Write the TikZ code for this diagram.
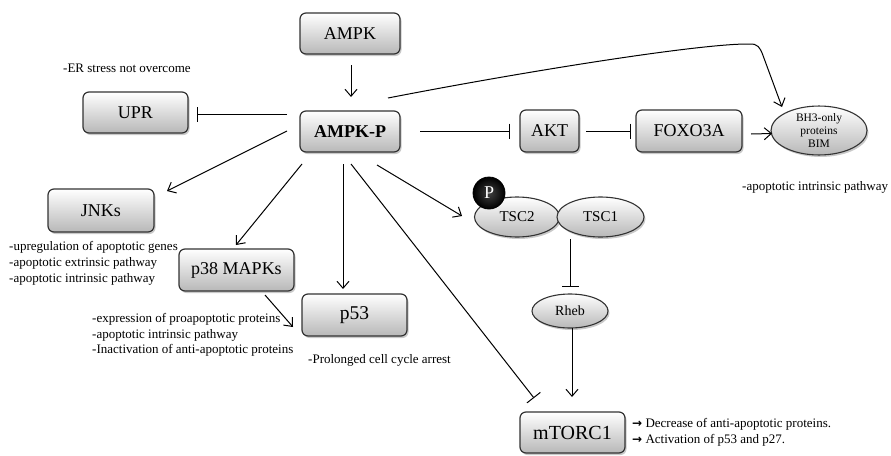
\documentclass[tikz,border=0pt]{standalone}
\usepackage{fontspec}
\setmainfont{Liberation Serif}
\newfontfamily\symf{DejaVu Sans}
\usetikzlibrary{arrows.meta,shapes.geometric,shadows,calc}
\begin{document}
\begin{tikzpicture}[x=1pt,y=-1pt,
  shad/.style={drop shadow={shadow xshift=1.5pt,shadow yshift=-2pt,opacity=0.3,fill=black!70}},
  box/.style={draw=black!80, line width=1.2pt, rounded corners=6pt, top color=white, bottom color=black!28, shad, inner sep=0pt, align=center},
  ell/.style={ellipse, draw=black!80, line width=1.1pt, top color=white, bottom color=black!28, shad, inner sep=0pt, align=center},
  act/.style={line width=1pt, -{Straight Barb[length=7pt,width=12pt]}},
  inh/.style={line width=1pt, -{Bar[width=15pt,line width=1pt]}},
  note/.style={font=\fontsize{13}{15.8}\selectfont, align=left, inner sep=0pt},
  big/.style={font=\fontsize{18}{20}\selectfont},
]
\useasboundingbox (0,0) rectangle (891,455);

% boxes
\node[box, big, minimum width=100, minimum height=41] (ampk) at (350,33.5) {AMPK};
\node[box, big, minimum width=100, minimum height=41, font=\fontsize{18}{20}\selectfont\bfseries] (ampkp) at (350,131.5) {AMPK-P};
\node[box, big, minimum width=105, minimum height=41] (upr) at (135.5,112.5) {UPR};
\node[box, big, minimum width=106, minimum height=43] (jnk) at (101,210.5) {JNKs};
\node[box, big, minimum width=115, minimum height=42] (p38) at (236.5,270) {p38 MAPKs};
\node[box, minimum width=105, minimum height=42, font=\fontsize{19.5}{21}\selectfont] (p53) at (354.5,315) {p53};
\node[box, big, minimum width=59, minimum height=42] (akt) at (549.5,131) {AKT};
\node[box, big, minimum width=106, minimum height=42] (foxo) at (689,131) {FOXO3A};
\node[box, minimum width=105, minimum height=41, font=\fontsize{20}{22}\selectfont] (mtorc) at (572.5,432.5) {mTORC1};

% ellipses
\node[ell, minimum width=96, minimum height=47, font=\fontsize{11.5}{13.3}\selectfont] (bim) at (819,130.5) {BH3-only\\proteins\\BIM};
\node[ell, minimum width=85, minimum height=40, font=\fontsize{15}{17}\selectfont] (tsc2) at (517,217) {TSC2};
\node[ell, minimum width=87, minimum height=40, font=\fontsize{15}{17}\selectfont] (tsc1) at (600.5,217) {TSC1};
\node[circle, minimum size=32, inner sep=0pt, draw=black, line width=0.8pt, inner color=black!75, outer color=black, text=white, font=\fontsize{18}{20}\selectfont] (pc) at (489,193) {P};
\node[ell, minimum width=76, minimum height=34, font=\fontsize{14}{16}\selectfont] (rheb) at (570,311) {Rheb};

% notes
\node[note, anchor=west] (ern) at (63,68) {-ER stress not overcome};
\node[note, anchor=north west] (jnkn) at (9,241.5) {-upregulation of apoptotic genes\\-apoptotic extrinsic pathway\\-apoptotic intrinsic pathway};
\node[note, anchor=north west] (p38n) at (92,313) {-expression of proapoptotic proteins\\-apoptotic intrinsic pathway\\-Inactivation of anti-apoptotic proteins};
\node[note, anchor=west] (p53n) at (308,360) {-Prolonged cell cycle arrest};
\node[note, anchor=west] (bimn) at (742,187) {-apoptotic intrinsic pathway};
\node[note, anchor=north west, font=\fontsize{13}{16}\selectfont] (mtn) at (632,418) {{\symf\bfseries\fontsize{12}{16}\selectfont →} Decrease of anti-apoptotic proteins.\\{\symf\bfseries\fontsize{12}{16}\selectfont →} Activation of p53 and p27.};

% connectors
\draw[act] ($(ampk)+(1,31.5)$) -- ($(ampkp)+(1,-34.5)$);
\draw[inh] ($(ampkp)+(-63,-17.5)$) -- ($(upr)+(61.5,1.5)$);
\draw[act] ($(ampkp)+(-63,-0.5)$) -- ($(jnk)+(66,-19.5)$);
\draw[act] ($(ampkp)+(-48,32.5)$) -- ($(p38)+(-0.5,-25)$);
\draw[act] ($(ampkp)+(-7,32.5)$) -- ($(p53)+(-11.5,-26)$);
\draw[act] ($(p38)+(28.5,25)$) -- ($(p53)+(-61.5,12)$);
\draw[inh, -{Bar[width=17pt,line width=1pt]}] ($(ampkp)+(1,32.5)$) -- ($(mtorc)+(-38.5,-34.5)$);
\draw[act] ($(ampkp)+(27,33.5)$) -- ($(tsc2)+(-55,-1)$);
\draw[inh] ($(ampkp)+(70,-0.5)$) -- ($(akt)+(-39.5,0)$);
\draw[inh] ($(akt)+(36.5,0)$) -- ($(foxo)+(-58,0)$);
\draw[act] ($(foxo)+(62,3)$) -- ($(bim)+(-47,3)$);
\draw[act] ($(ampkp)+(38,-33.5)$) .. controls ($(bim)+(-300,-58)$) and ($(bim)+(-120,-87)$) .. ($(bim)+(-70,-86.5)$)
  .. controls ($(bim)+(-61,-87)$) and ($(bim)+(-59,-83)$) .. ($(bim)+(-56,-75)$) -- ($(bim)+(-37,-23.5)$);
\draw[inh, -{Bar[width=17pt,line width=1pt]}] ($(tsc1)+(-30.5,22)$) -- ($(rheb)+(0,-24)$);
\draw[act] ($(rheb)+(2,17)$) -- ($(mtorc)+(-0.5,-35.5)$);
\end{tikzpicture}
\end{document}
